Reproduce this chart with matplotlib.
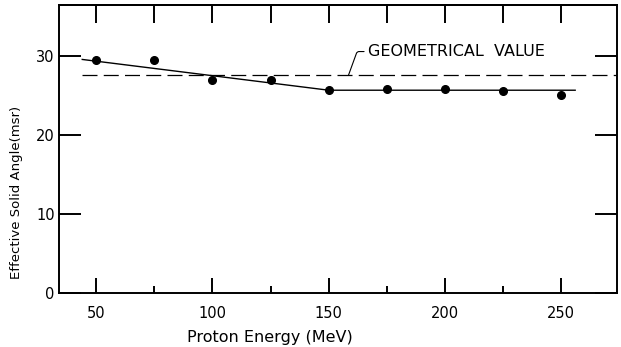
import matplotlib.pyplot as plt

energy = [50, 75, 100, 125, 150, 175, 200, 225, 250]
solid_angle = [29.5, 29.5, 27.0, 27.0, 25.7, 25.9, 25.8, 25.6, 25.1]

# hand-drawn fit: sloped part then flat
fit_x = [44, 150, 256]
fit_y = [29.6, 25.7, 25.7]

geom_value = 27.6
geom_x = [44, 274]

x_major = [50, 100, 150, 200, 250]
x_minor = [75, 125, 175, 225]
y_major = [0, 10, 20, 30]

LW = 1.4

fig = plt.figure(figsize=(6.21, 3.47), dpi=100)
ax = fig.add_axes([0.095, 0.1556, 0.8986, 0.83])

ax.plot(fit_x, fit_y, color='black', lw=1.0)
ax.plot(geom_x, [geom_value, geom_value], color='black', lw=0.9,
        dashes=(12, 5))
ax.plot(energy, solid_angle, 'o', color='black', markersize=5.5)

ax.annotate('GEOMETRICAL  VALUE', xy=(158.5, geom_value),
            xytext=(167, 30.6), ha='left', va='center', fontsize=11.5,
            arrowprops=dict(arrowstyle='-', lw=0.8, color='black',
                            shrinkA=1, shrinkB=0,
                            connectionstyle='angle,angleA=180,angleB=70,rad=2'))

ax.set_xlim(34, 274)
ax.set_ylim(0, 36.5)

ax.set_xticks(x_major)
ax.set_xticks(x_minor, minor=True)
ax.set_yticks(y_major)
ax.tick_params(axis='x', which='major', direction='in', length=11, width=LW,
               labelsize=10.5, pad=9)
ax.tick_params(axis='x', which='minor', direction='in', length=5, width=LW)
ax.tick_params(axis='y', which='major', direction='in', length=16, width=LW,
               labelsize=10.5, pad=3, right=True)

top = ax.secondary_xaxis('top')
top.set_xticks(x_major + x_minor)
top.tick_params(direction='in', length=13, width=LW, labeltop=False)
top.spines['top'].set_linewidth(LW)

for s in ax.spines.values():
    s.set_linewidth(LW)

ax.set_xlabel('Proton Energy (MeV)', fontsize=11.5)
ax.xaxis.set_label_coords(0.378, -0.13)
ax.set_ylabel('Effective Solid Angle(msr)', fontsize=9.5)
ax.yaxis.set_label_coords(-0.065, 0.35)

fig.savefig('out.png', dpi=100)
